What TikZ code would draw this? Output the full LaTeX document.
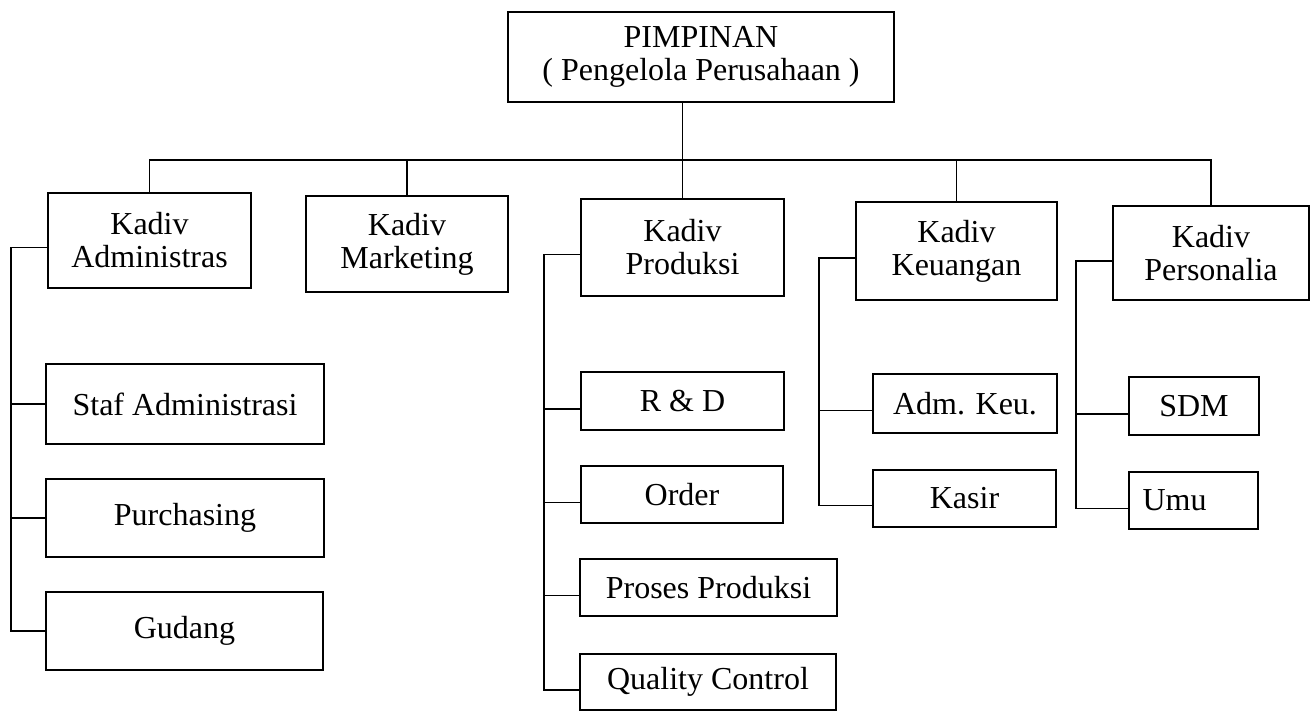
\documentclass[tikz,border=0pt]{standalone}
\usepackage{fontspec}
\setmainfont{Liberation Serif}
\usepackage{tikz}
\usetikzlibrary{positioning}

\begin{document}
\begin{tikzpicture}[x=1pt, y=-1pt, line width=1.6pt,
    unit/.style={draw, rectangle, inner sep=0pt, align=center, font=\fontsize{32}{33}\selectfont}]
    \useasboundingbox (0,0) rectangle (1312,711);

    % Nodes {top, kadiv, staf}
    \node [unit, minimum width=386, minimum height=90]  (top)    at (701,57)      {PIMPINAN\\( Pengelola Perusahaan )};
    \node [unit, minimum width=203, minimum height=95]  (adm)    at (149.5,240.5) {Kadiv\\Administras};
    \node [unit, minimum width=202, minimum height=96]  (mkt)    at (407,244)     {Kadiv\\Marketing};
    \node [unit, minimum width=203, minimum height=97]  (prod)   at (682.5,247.5) {Kadiv\\Produksi};
    \node [unit, minimum width=201, minimum height=98]  (keu)    at (956.5,251)   {Kadiv\\Keuangan};
    \node [unit, minimum width=196, minimum height=94]  (pers)   at (1211,253)    {Kadiv\\Personalia};

    \node [unit, minimum width=278, minimum height=80]  (staf)   at (185,404)     {Staf Administrasi};
    \node [unit, minimum width=278, minimum height=78]  (purch)  at (185,518)     {Purchasing};
    \node [unit, minimum width=277, minimum height=78]  (gud)    at (184.5,631)   {Gudang};

    \node [unit, minimum width=203, minimum height=58]  (rnd)    at (682.5,401)   {R \& D};
    \node [unit, minimum width=202, minimum height=57]  (order)  at (682,494.5)   {Order};
    \node [unit, minimum width=257, minimum height=57]  (proses) at (708.5,587.5) {Proses Produksi};
    \node [unit, minimum width=256, minimum height=56]  (qc)     at (708,682)     {Quality Control};

    \node [unit, minimum width=184, minimum height=59]  (admkeu) at (965,403.5)   {Adm. Keu.};
    \node [unit, minimum width=183, minimum height=57]  (kasir)  at (964.5,498.5) {Kasir};

    \node [unit, minimum width=130, minimum height=58]  (sdm)    at (1194,406)    {SDM};
    \node [unit, minimum width=129, minimum height=57]  (umu)    at (1193.5,500.5) {Umu\hspace*{38pt}};

    % Bus and spines
    \coordinate (bus)   at (0,160);
    \coordinate (admS)  at ([shift={(-36pt,-7pt)}]adm.west);
    \coordinate (prodS) at ([shift={(-36pt,-7pt)}]prod.west);
    \coordinate (keuS)  at ([shift={(-36pt,-7pt)}]keu.west);
    \coordinate (persS) at ([shift={(-36pt,-8pt)}]pers.west);

    % Paths
    \draw (top.south -| prod.north) -- (prod.north);
    \draw (adm.north) -- (adm.north |- bus) -- (pers.north |- bus) -- (pers.north);
    \draw (mkt.north) -- (mkt.north |- bus);
    \draw (keu.north) -- (keu.north |- bus);

    \draw ([yshift=-7pt]adm.west) -- (admS) |- (gud.west);
    \foreach \n in {staf, purch}
        \draw (\n.west) -- (\n.west -| admS);

    \draw ([yshift=-7pt]prod.west) -- (prodS) |- ([yshift=-8pt]qc.west);
    \foreach \n in {rnd, order, proses}
        \draw ([yshift=-8pt]\n.west) -- ([yshift=-8pt]\n.west -| prodS);

    \draw ([yshift=-7pt]keu.west) -- (keuS) |- ([yshift=-7pt]kasir.west);
    \draw ([yshift=-7pt]admkeu.west) -- ([yshift=-7pt]admkeu.west -| keuS);

    \draw ([yshift=-8pt]pers.west) -- (persS) |- ([yshift=-8pt]umu.west);
    \draw ([yshift=-8pt]sdm.west) -- ([yshift=-8pt]sdm.west -| persS);
\end{tikzpicture}
\end{document}
